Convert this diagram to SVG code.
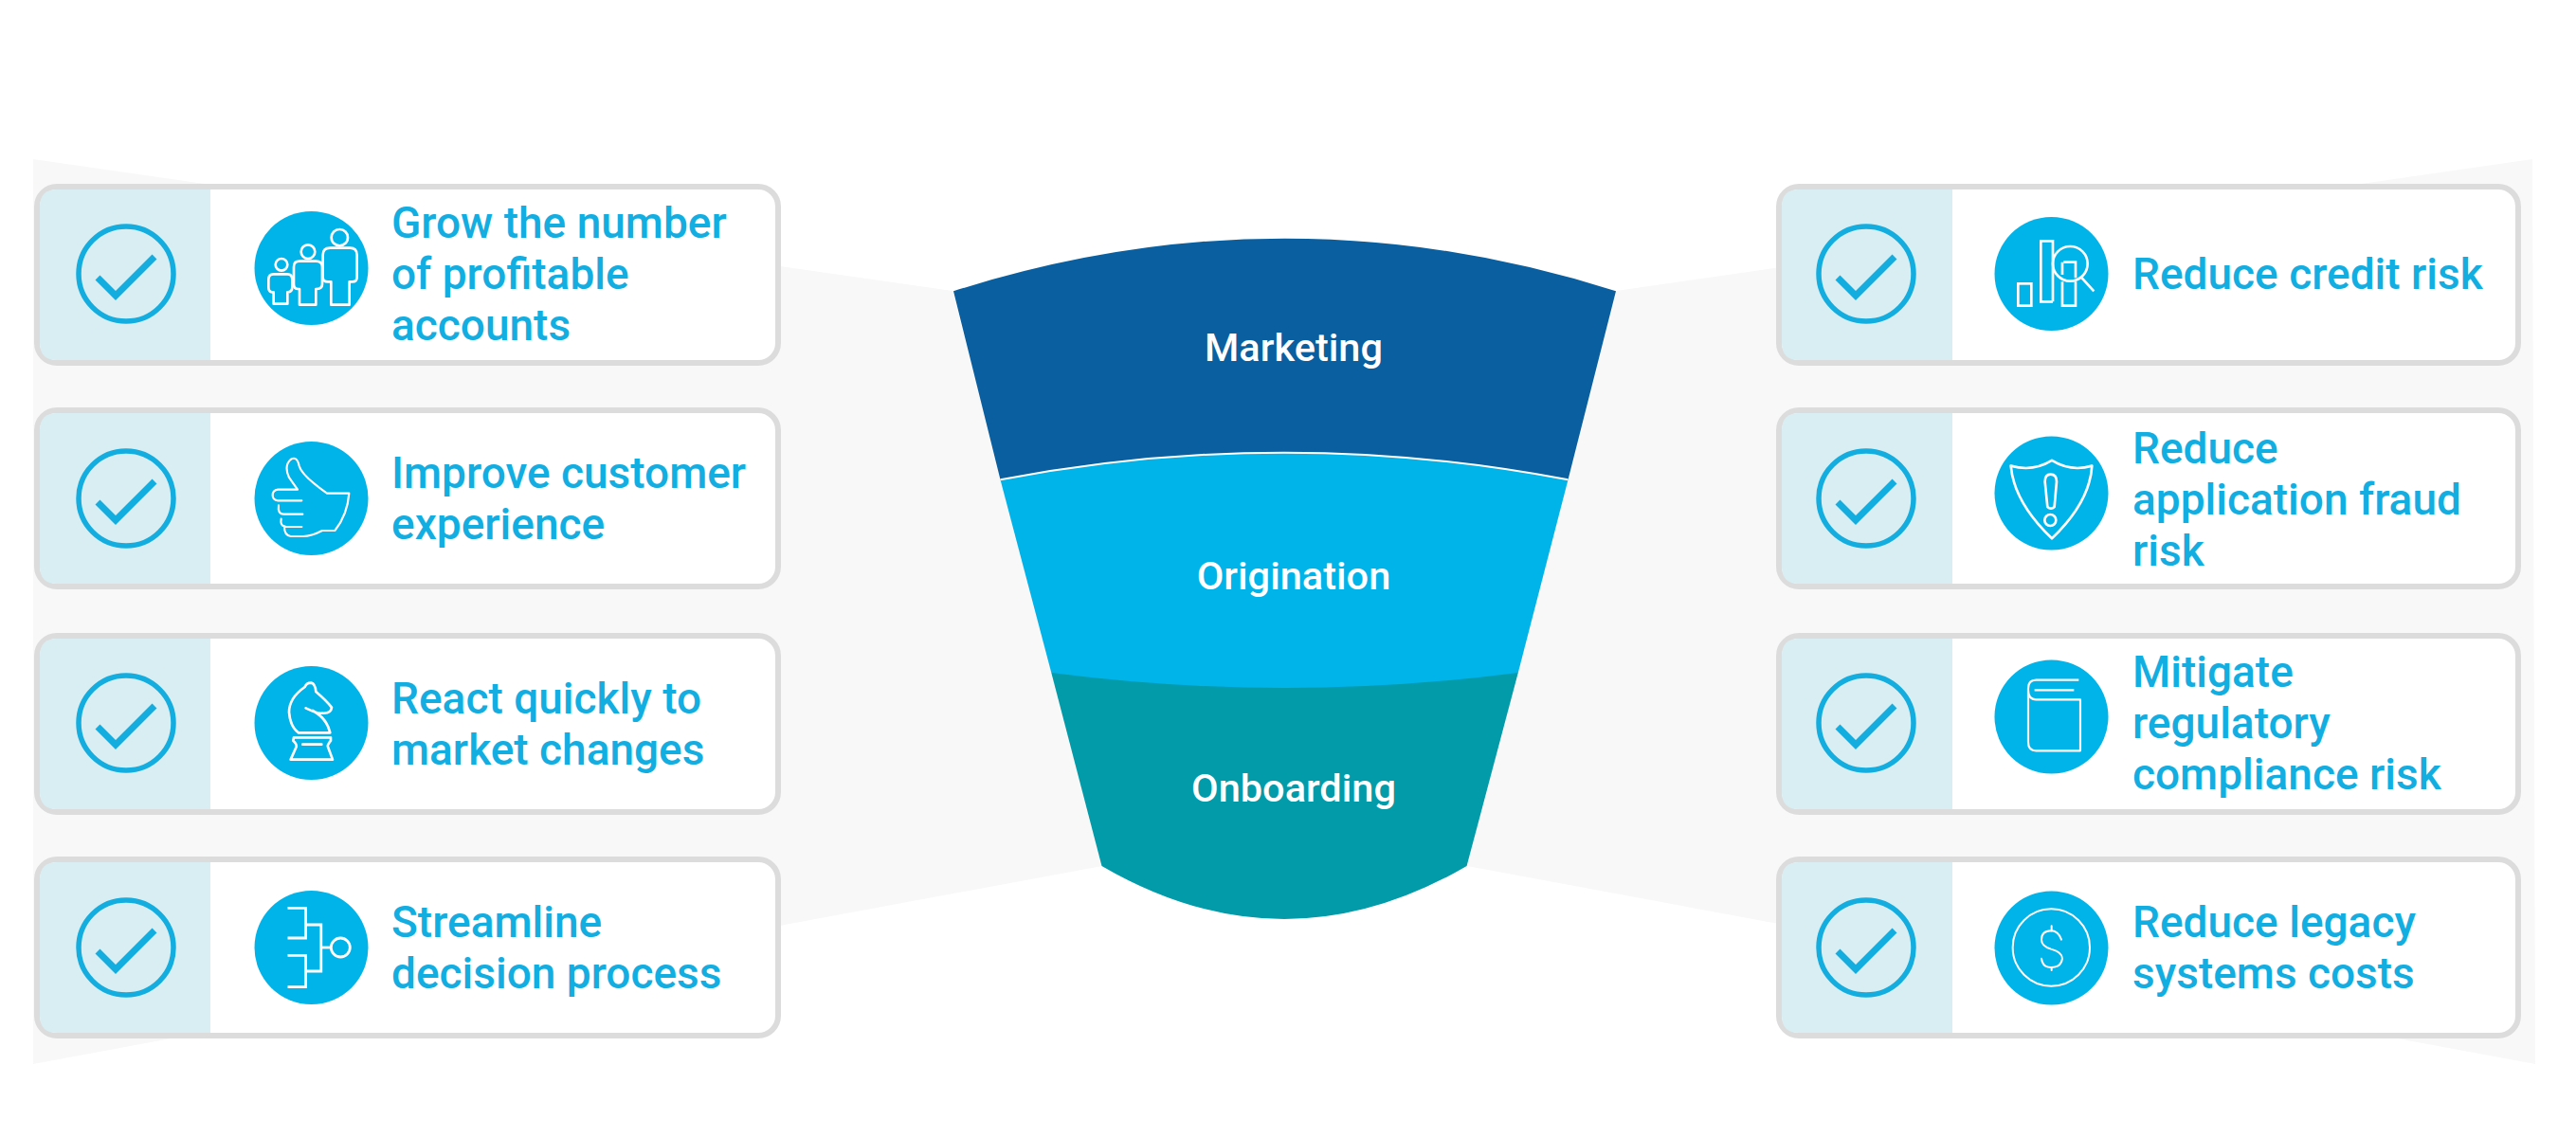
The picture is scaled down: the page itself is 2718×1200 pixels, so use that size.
<svg xmlns="http://www.w3.org/2000/svg" width="2718" height="1200" viewBox="0 0 2718 1200">
<defs>
<style>
.card{fill:#fff;stroke:#dcdcdc;stroke-width:6}
.pale{fill:#d9eef2}
.ring{fill:none;stroke:#14ade0;stroke-width:5.5}
.tick{fill:none;stroke:#14ade0;stroke-width:7}
.disc{fill:#00b4e9}
.ico{fill:none;stroke:#fff;stroke-width:8;stroke-linejoin:round;stroke-linecap:round}
.ico .f{fill:#00b4e9}
.lbl{font-family:Roboto,"Liberation Sans",sans-serif;font-weight:500;font-size:46px;fill:#12aee2}
.fl{font-family:Roboto,"Liberation Sans",sans-serif;font-weight:500;font-size:41.5px;fill:#fff;text-anchor:middle}
</style>
<g id="check"><circle class="ring" cx="0" cy="0" r="50"/><path class="tick" d="M-30 4 L-11 23 L30 -18"/></g>
</defs>
<rect width="2718" height="1200" fill="#fff"/>
<g id="backdrop" fill="#f8f8f8">
<path d="M35 168 L1005 307 L1163 914 L35 1123 Z"/>
<path d="M2672 168 L1705 307 L1548 914 L2675 1123 Z"/>
</g>
<g id="funnel">
<g id="stage-onboarding"><path fill="#019baa" d="M1109.3 710 L1601.8 710 L1547.6 914 Q1355 1026 1162.5 914 Z"/><text class="fl" x="1365" y="845.5">Onboarding</text></g>
<g id="stage-origination"><path fill="#00b4e9" d="M1055.5 506.3 Q1355 449 1654.5 506.3 L1601.8 710 Q1355 742 1109.3 710 Z"/><text class="fl" x="1365" y="621.5">Origination</text></g>
<g id="stage-marketing"><path fill="#0a5fa0" d="M1006 307.3 Q1355 196 1705 307.3 L1654.5 506.3 Q1355 449 1055.5 506.3 Z"/><path fill="none" stroke="#fff" stroke-width="2" d="M1055.5 506.3 Q1355 449 1654.5 506.3"/><text class="fl" x="1365" y="381">Marketing</text></g>
</g>

<g id="card-profitable"><rect class="card" x="39" y="197" width="782" height="186" rx="21"/><path class="pale" d="M222 200 V380 H60 Q42 380 42 362 V218 Q42 200 60 200 Z"/><use href="#check" x="133" y="289"/>
<circle class="disc" cx="328.5" cy="283" r="60"/>
<g class="ico" transform="translate(250,210) scale(.3333)">
<circle cx="141" cy="208" r="19"/><path class="f" d="M116 332 V295 H112 Q100 295 100 280 V255 Q100 238 116 238 H160 Q175 238 175 255 V280 Q175 295 160 295 V332 Z"/>
<circle cx="225" cy="167" r="22"/><path class="f" d="M198 335 V285 H194 Q180 285 180 270 V215 Q180 197 198 197 H250 Q270 197 270 215 V270 Q270 285 250 285 V335 Z"/>
<circle cx="325" cy="122" r="26"/><path class="f" d="M298 335 V262 H288 Q272 262 272 248 V178 Q272 155 295 155 H358 Q380 155 380 178 V248 Q380 262 365 262 H356 V335 Z"/></g>
<text class="lbl" x="413" y="250.5">Grow the number</text><text class="lbl" x="413" y="304.5">of profitable</text><text class="lbl" x="413" y="358.5">accounts</text></g>

<g id="card-experience"><rect class="card" x="39" y="433" width="782" height="186" rx="21"/><path class="pale" d="M222 436 V616 H60 Q42 616 42 598 V454 Q42 436 60 436 Z"/><use href="#check" x="133" y="526"/>
<circle class="disc" cx="328.5" cy="526" r="60"/>
<g class="ico" transform="translate(250,450) scale(.3333)" style="stroke-width:6.5">
<path d="M205 235 H130 Q113 233 113 218 Q113 202 130 200 H192 L165 162 Q148 125 170 105 Q190 92 197 125 Q205 155 285 212 H355 Q350 280 310 330 H270 Q235 348 210 348 H170 Q150 345 150 318 H205"/>
<path d="M132 250 Q128 278 148 278 H208"/><path d="M140 293 Q136 315 152 317"/></g>
<text class="lbl" x="413" y="514.5">Improve customer</text><text class="lbl" x="413" y="568.5">experience</text></g>

<g id="card-market"><rect class="card" x="39" y="671" width="782" height="186" rx="21"/><path class="pale" d="M222 674 V854 H60 Q42 854 42 836 V692 Q42 674 60 674 Z"/><use href="#check" x="133" y="763"/>
<circle class="disc" cx="328.5" cy="763" r="60"/>
<g class="ico" transform="translate(250,690) scale(.3333)">
<path d="M218 172 Q255 190 270 188 Q298 190 300 170 Q285 150 250 120 Q248 95 235 92 Q220 92 215 105 Q165 140 165 185 Q168 230 195 250 H295 Q285 205 240 180"/>
<path d="M180 265 H297 V275 Q285 290 288 295 L303 335 H170 L188 295 Q190 285 178 275 Z"/><path d="M208 287 H268"/></g>
<text class="lbl" x="413" y="752.5">React quickly to</text><text class="lbl" x="413" y="806.5">market changes</text></g>

<g id="card-decision"><rect class="card" x="39" y="907" width="782" height="186" rx="21"/><path class="pale" d="M222 910 V1090 H60 Q42 1090 42 1072 V928 Q42 910 60 910 Z"/><use href="#check" x="133" y="1000"/>
<circle class="disc" cx="328.5" cy="1000" r="60"/>
<g class="ico" style="stroke-width:2.8;stroke-linecap:butt;stroke-linejoin:miter">
<path d="M303.5 958.3 H322.5 V990 H303.5"/><path d="M322.5 976 H338.8 V1025 H322.5"/><path d="M303.5 1008.3 H322.5 V1041.7 H303.5"/><path d="M338.8 1000 H349.3"/><circle cx="359.3" cy="1000" r="10"/></g>
<text class="lbl" x="413" y="988.5">Streamline</text><text class="lbl" x="413" y="1042.5">decision process</text></g>

<g id="card-credit"><rect class="card" x="1877" y="197" width="780" height="186" rx="21"/><path class="pale" d="M2060 200 V380 H1898 Q1880 380 1880 362 V218 Q1880 200 1898 200 Z"/><use href="#check" x="1969" y="289"/>
<circle class="disc" cx="2164.5" cy="289" r="60"/>
<g class="ico" transform="translate(2090,210) scale(.3333)" style="stroke-linecap:butt;stroke-linejoin:miter">
<rect x="118" y="268" width="42" height="70"/><path d="M228 325 V133 H190 V325 H228"/><path d="M258 262 V338 H300 V262 M262 200 H300 V250 M258 200 V240"/><circle cx="283" cy="205" r="55"/><path d="M320 250 L358 292"/></g>
<text class="lbl" x="2250" y="304.5">Reduce credit risk</text></g>

<g id="card-fraud"><rect class="card" x="1877" y="433" width="780" height="186" rx="21"/><path class="pale" d="M2060 436 V616 H1898 Q1880 616 1880 598 V454 Q1880 436 1898 436 Z"/><use href="#check" x="1969" y="526"/>
<circle class="disc" cx="2164.5" cy="520.5" r="60"/>
<g class="ico" transform="translate(2090,210) scale(.3333)">
<path d="M95 845 Q165 865 225 828 Q285 865 352 845 Q345 960 225 1075 Q105 960 95 845 Z"/>
<path d="M203 895 Q203 872 221 872 Q240 872 240 895 L233 975 Q222 985 211 975 Z"/><circle cx="220" cy="1017" r="18"/></g>
<text class="lbl" x="2250" y="488.5">Reduce</text><text class="lbl" x="2250" y="542.5">application fraud</text><text class="lbl" x="2250" y="596.5">risk</text></g>

<g id="card-compliance"><rect class="card" x="1877" y="671" width="780" height="186" rx="21"/><path class="pale" d="M2060 674 V854 H1898 Q1880 854 1880 836 V692 Q1880 674 1898 674 Z"/><use href="#check" x="1969" y="763"/>
<circle class="disc" cx="2164.5" cy="756.5" r="60"/>
<g class="ico" transform="translate(2090,690) scale(.3333)" style="stroke-width:6.5;stroke-linecap:butt">
<path d="M310 83 H175 Q150 83 150 110 V280 Q150 307 175 307 H315 V145 H175 Q150 145 150 115"/><path d="M170 115 H295"/></g>
<text class="lbl" x="2250" y="724.5">Mitigate</text><text class="lbl" x="2250" y="778.5">regulatory</text><text class="lbl" x="2250" y="832.5">compliance risk</text></g>

<g id="card-legacy"><rect class="card" x="1877" y="907" width="780" height="186" rx="21"/><path class="pale" d="M2060 910 V1090 H1898 Q1880 1090 1880 1072 V928 Q1880 910 1898 910 Z"/><use href="#check" x="1969" y="1000"/>
<circle class="disc" cx="2164.5" cy="1000.5" r="60"/>
<g class="ico" transform="translate(2090,690) scale(.3333)" style="stroke-width:6">
<circle cx="223" cy="930" r="122"/><path d="M255 905 Q245 877 222 877 Q192 878 192 905 Q192 925 222 935 Q258 945 258 965 Q255 993 222 993 Q195 993 192 965"/><path d="M224 862 V877 M224 993 V1002"/></g>
<text class="lbl" x="2250" y="988.5">Reduce legacy</text><text class="lbl" x="2250" y="1042.5">systems costs</text></g>
</svg>
